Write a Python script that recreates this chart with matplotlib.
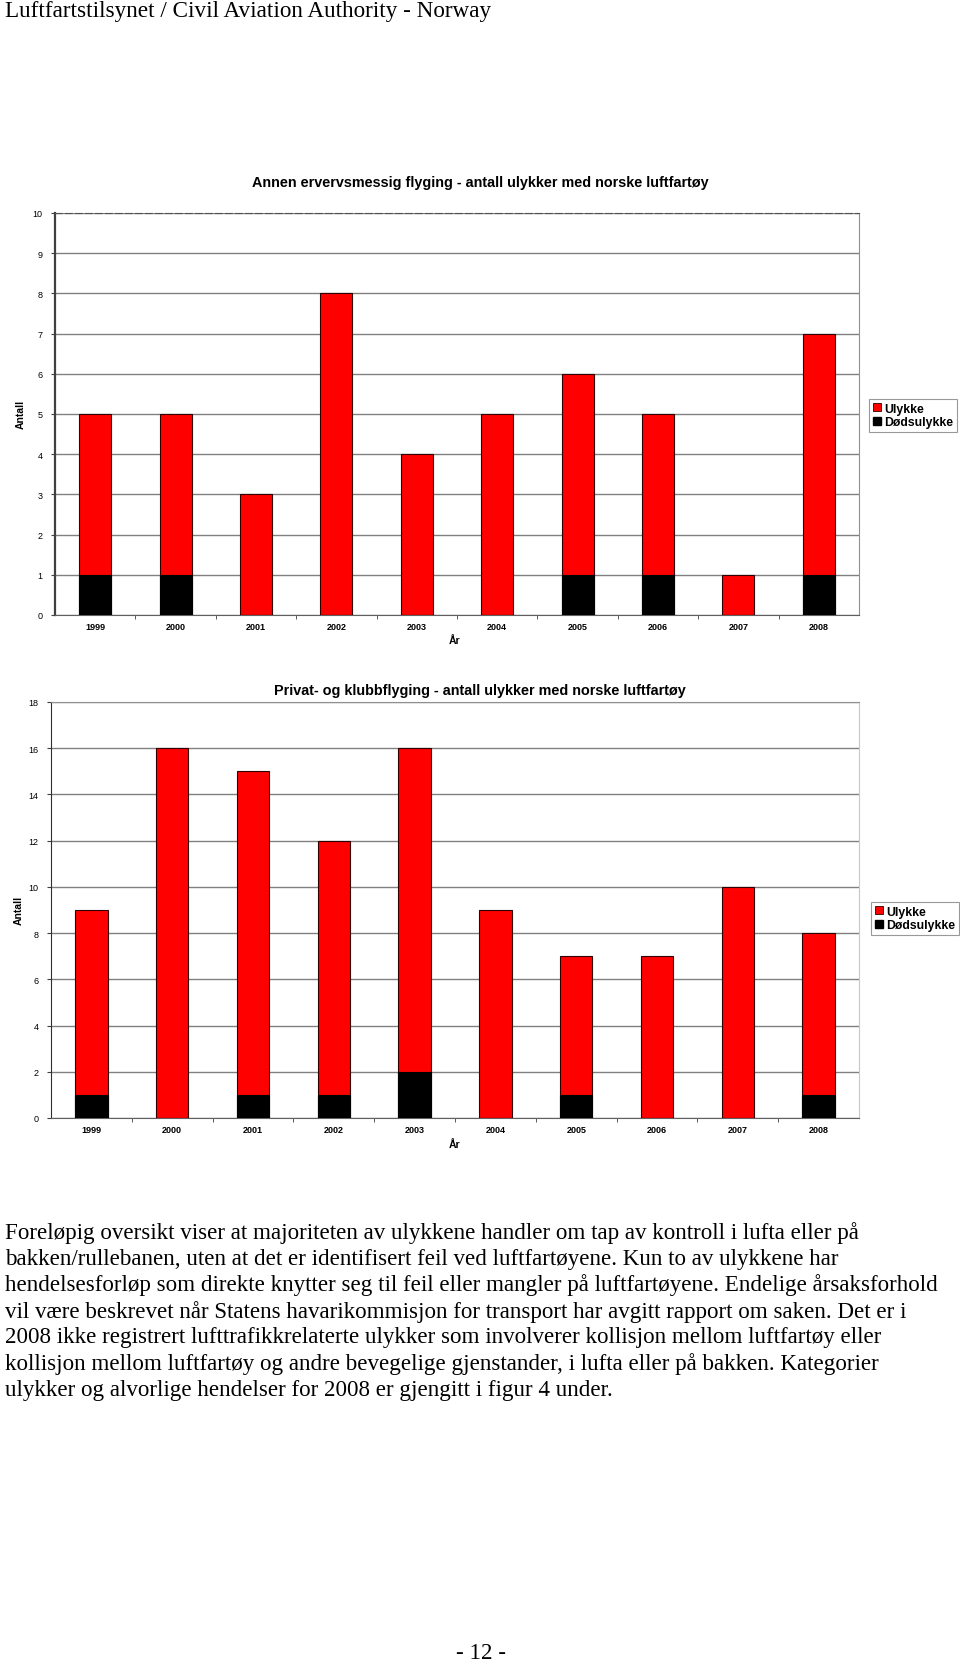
import numpy as np
import matplotlib
matplotlib.use("Agg")
import matplotlib.pyplot as plt
from matplotlib.patches import Patch

years = ["1999", "2000", "2001", "2002", "2003", "2004", "2005", "2006", "2007", "2008"]

# chart 1: other commercial flying
ulykke_1 = [5, 5, 3, 8, 4, 5, 6, 5, 1, 7]
dods_1 = [1, 1, 0, 0, 0, 0, 1, 1, 0, 1]

# chart 2: private and club flying
ulykke_2 = [9, 16, 15, 12, 16, 9, 7, 7, 10, 8]
dods_2 = [1, 0, 1, 1, 2, 0, 1, 0, 0, 1]

title_1 = "Annen ervervsmessig flyging - antall ulykker med norske luftfartøy"
title_2 = "Privat- og klubbflyging - antall ulykker med norske luftfartøy"
legend_labels = ["Ulykke", "Dødsulykke"]

header = "Luftfartstilsynet / Civil Aviation Authority - Norway"
paragraph = [
    "Foreløpig oversikt viser at majoriteten av ulykkene handler om tap av kontroll i lufta eller på",
    "bakken/rullebanen, uten at det er identifisert feil ved luftfartøyene. Kun to av ulykkene har",
    "hendelsesforløp som direkte knytter seg til feil eller mangler på luftfartøyene. Endelige årsaksforhold",
    "vil være beskrevet når Statens havarikommisjon for transport har avgitt rapport om saken. Det er i",
    "2008 ikke registrert lufttrafikkrelaterte ulykker som involverer kollisjon mellom luftfartøy eller",
    "kollisjon mellom luftfartøy og andre bevegelige gjenstander, i lufta eller på bakken. Kategorier",
    "ulykker og alvorlige hendelser for 2008 er gjengitt i figur 4 under.",
]
page_no = "- 12 -"

W, H = 960, 1665
fig = plt.figure(figsize=(W / 100, H / 100), dpi=100)
fig.patch.set_facecolor("white")

sans = "Liberation Sans"
serif = "Liberation Serif"


def fx(px):
    return px / W


def fy(py):
    return 1 - py / H


def draw_chart(rect, ulykke, dods, ymax, ystep, title, title_y, leg_xy, ylab_xy, xlab_xy, dotted):
    ax = fig.add_axes(rect)
    x = np.arange(len(years))
    ax.bar(x, ulykke, width=0.4, color="#ff0000", edgecolor="#300000", linewidth=0.8, zorder=3)
    ax.bar(x, dods, width=0.4, color="#000000", edgecolor="#000000", linewidth=0.8, zorder=4)
    ax.set_xlim(-0.5, len(years) - 0.5)
    ax.set_ylim(0, ymax)
    ax.set_yticks(np.arange(0, ymax + 1, ystep))
    ax.yaxis.grid(True, color="#808080", linewidth=1.0, zorder=0)
    ax.set_xticks(x)
    ax.set_xticklabels(years, fontsize=6.5, fontweight="bold", family=sans)
    ax.set_xticks(np.arange(0.5, len(years) - 0.5, 1), minor=True)
    ax.tick_params(axis="x", which="major", length=0, pad=5)
    ax.tick_params(axis="x", which="minor", length=3, color="#404040", direction="out")
    ax.tick_params(axis="y", length=3, labelsize=6.5, color="#404040", pad=6)
    for lab in ax.get_yticklabels():
        lab.set_family(sans)
    ax.spines["bottom"].set_color("#606060")
    if dotted:
        ax.spines["left"].set_linestyle((0, (1, 1)))
        ax.spines["left"].set_linewidth(1.6)
        ax.spines["left"].set_color("#404040")
        ax.spines["top"].set_linestyle((0, (6, 3)))
        ax.spines["top"].set_color("#505050")
        ax.spines["right"].set_linestyle((0, (1, 1)))
        ax.spines["right"].set_color("#909090")
    else:
        ax.spines["left"].set_color("#303030")
        ax.spines["top"].set_color("#909090")
        ax.spines["right"].set_color("#c8c8c8")
    fig.text(0.5, title_y, title, ha="center", va="center", fontsize=10.4,
             fontweight="bold", family=sans)
    fig.text(fx(ylab_xy[0]), fy(ylab_xy[1]), "Antall", rotation=90, ha="center",
             va="center", fontsize=7.5, fontweight="bold", family=sans)
    fig.text(fx(xlab_xy[0]), fy(xlab_xy[1]), "År", ha="center", va="center",
             fontsize=7.5, fontweight="bold", family=sans)
    handles = [Patch(facecolor="#ff0000", edgecolor="#300000", linewidth=0.6),
               Patch(facecolor="#000000", edgecolor="#000000")]
    leg = fig.legend(handles, legend_labels, loc="upper left",
                     bbox_to_anchor=(fx(leg_xy[0]), fy(leg_xy[1])),
                     bbox_transform=fig.transFigure, borderaxespad=0,
                     prop={"family": sans, "size": 8.8, "weight": "bold"},
                     frameon=True, fancybox=False,
                     handlelength=0.65, handleheight=0.65, handletextpad=0.3,
                     labelspacing=0.1, borderpad=0.3)
    leg.get_frame().set_edgecolor("#808080")
    leg.get_frame().set_linewidth(0.8)
    return ax


draw_chart([fx(55), fy(616), fx(804), 402 / H], ulykke_1, dods_1, 10, 1, title_1,
           fy(183), (869, 400), (21, 414), (455, 641), True)
draw_chart([fx(51), fy(1119), fx(808), 416 / H], ulykke_2, dods_2, 18, 2, title_2,
           fy(691), (871, 903), (19, 910), (455, 1145), False)

fig.text(fx(5), fy(12), header, ha="left", va="center", fontsize=16.7, family=serif)

for i, line in enumerate(paragraph):
    fig.text(fx(5), fy(1233 + i * 26.2), line, ha="left", va="center",
             fontsize=16.6, family=serif)

fig.text(fx(481), fy(1654), page_no, ha="center", va="center", fontsize=16.6, family=serif)

fig.savefig("out.png", dpi=100, facecolor="white")
